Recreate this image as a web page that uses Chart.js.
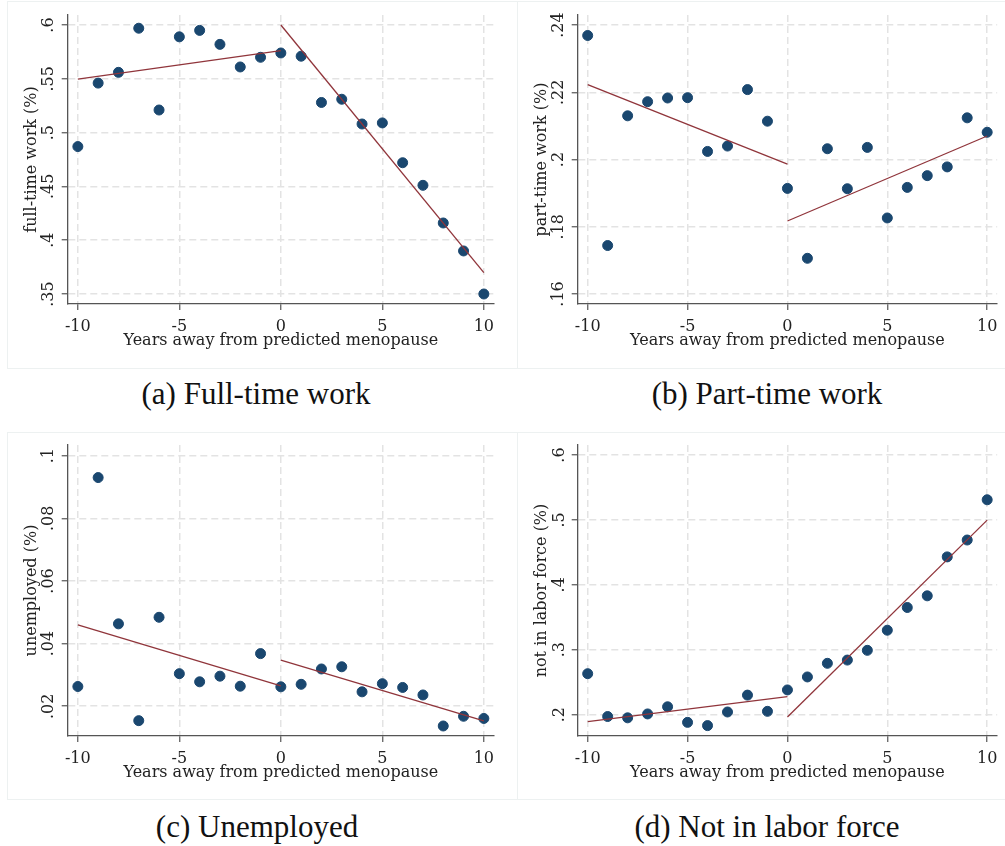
<!DOCTYPE html>
<html>
<head>
<meta charset="utf-8">
<script src="https://cdn.jsdelivr.net/npm/chart.js@4/dist/chart.umd.min.js"></script>
<style>
  html, body { margin: 0; padding: 0; background: #fff; }
  body { width: 1005px; height: 846px; position: relative; overflow: hidden; }
  .frame { position: absolute; border: 1px solid #edf1f1; box-sizing: border-box; }
  .panel { position: absolute; }
  .cap {
    position: absolute; font-family: "Liberation Serif", "Times New Roman", serif;
    font-size: 31px; line-height: 31px; color: #111; white-space: nowrap;
    transform: translateX(-50%);
  }
</style>
</head>
<body>
<div class="frame" style="left:7px;top:1px;width:511px;height:368px"></div>
<div class="frame" style="left:517px;top:1px;width:495px;height:368px"></div>
<div class="frame" style="left:7px;top:432px;width:511px;height:368px"></div>
<div class="frame" style="left:517px;top:432px;width:495px;height:368px"></div>

<canvas id="fulltime" class="panel" width="510" height="360" style="left:0;top:0"></canvas>
<canvas id="parttime" class="panel" width="495" height="360" style="left:510px;top:0"></canvas>
<canvas id="unemployed" class="panel" width="510" height="362" style="left:0;top:430px"></canvas>
<canvas id="nilf" class="panel" width="495" height="362" style="left:510px;top:430px"></canvas>

<div class="cap" style="left:256px;top:378px">(a) Full-time work</div>
<div class="cap" style="left:767px;top:378px">(b) Part-time work</div>
<div class="cap" style="left:257px;top:811px">(c) Unemployed</div>
<div class="cap" style="left:767px;top:811px">(d) Not in labor force</div>

<script>
// Years relative to predicted menopause
const years = [-10, -9, -8, -7, -6, -5, -4, -3, -2, -1, 0, 1, 2, 3, 4, 5, 6, 7, 8, 9, 10];

// Share of women in each labour-market state, by year
const fullTime   = [0.487, 0.546, 0.556, 0.597, 0.521, 0.589, 0.595, 0.582, 0.561, 0.570, 0.574,
                    0.571, 0.528, 0.531, 0.508, 0.509, 0.472, 0.451, 0.416, 0.390, 0.350];
const partTime   = [0.2369, 0.1744, 0.2130, 0.2172, 0.2183, 0.2184, 0.2024, 0.2040, 0.2208, 0.2114, 0.1914,
                    0.1706, 0.2032, 0.1913, 0.2036, 0.1826, 0.1917, 0.1952, 0.1978, 0.2124, 0.2081];
const unemployed = [0.0263, 0.0930, 0.0463, 0.0154, 0.0484, 0.0304, 0.0278, 0.0296, 0.0264, 0.0368, 0.0262,
                    0.0270, 0.0319, 0.0326, 0.0246, 0.0272, 0.0260, 0.0236, 0.0137, 0.0168, 0.0161];
const notInLF    = [0.263, 0.197, 0.195, 0.201, 0.212, 0.188, 0.183, 0.204, 0.230, 0.205, 0.238,
                    0.258, 0.279, 0.284, 0.299, 0.330, 0.365, 0.383, 0.443, 0.469, 0.531];

// Linear fits before and after menopause (values at the segment ends)
const preX  = [-10, 0];
const postX = [0, 10];
const fullTimeFitPre    = [0.5498, 0.5761];
const fullTimeFitPost   = [0.6000, 0.3698];
const partTimeFitPre    = [0.2223, 0.1986];
const partTimeFitPost   = [0.1817, 0.2070];
const unemployedFitPre  = [0.0460, 0.0265];
const unemployedFitPost = [0.0347, 0.0153];
const notInLFFitPre     = [0.1892, 0.2278];
const notInLFFitPost    = [0.1964, 0.4996];

// Tick labels
const xTicks          = [-10, -5, 0, 5, 10];
const fullTimeTicks   = [0.35, 0.4, 0.45, 0.5, 0.55, 0.6];
const partTimeTicks   = [0.16, 0.18, 0.2, 0.22, 0.24];
const unemployedTicks = [0.02, 0.04, 0.06, 0.08, 0.1];
const notInLFTicks    = [0.2, 0.3, 0.4, 0.5, 0.6];

const FONT = '"DejaVu Serif", serif';
const FSIZE = 16;
const TEXT = '#222';
const AXIS = '#555';
const GRID = '#e3e3e3';
const DOT  = '#1a476f';
const FIT  = '#90353b';

// Stata-style labels: drop the leading zero
const fmt = v => String(+v.toFixed(4)).replace(/^0\./, '.').replace(/^-0\./, '-.');

function pairs(xs, ys) { return xs.map((x, i) => ({ x: x, y: ys[i] })); }

function panel(id, values, fitPre, fitPost, yTicks, yRange, yTitle, g) {
  new Chart(document.getElementById(id), {
    data: {
      datasets: [
        { type: 'line', data: pairs(preX, fitPre), borderColor: FIT, borderWidth: 1.3,
          pointRadius: 0, fill: false, order: 0 },
        { type: 'line', data: pairs(postX, fitPost), borderColor: FIT, borderWidth: 1.3,
          pointRadius: 0, fill: false, order: 0 },
        { type: 'scatter', data: pairs(years, values), pointRadius: 5, pointHoverRadius: 5,
          pointBackgroundColor: DOT, pointBorderColor: DOT, borderWidth: 1, order: 1 }
      ]
    },
    options: {
      responsive: false,
      animation: false,
      events: [],
      layout: { padding: { top: 15, right: g.padRight, left: 0, bottom: 0 } },
      plugins: { legend: { display: false }, tooltip: { enabled: false } },
      scales: {
        x: {
          type: 'linear', min: -10.5, max: 10.5,
          afterBuildTicks: s => { s.ticks = xTicks.map(v => ({ value: v })); },
          afterFit: s => { s.height = g.xHeight; },
          ticks: { color: TEXT, font: { family: FONT, size: FSIZE }, padding: 7.5,
                   maxRotation: 0, autoSkip: false, callback: v => String(v) },
          grid: { color: GRID, lineWidth: 1.5, tickColor: AXIS, tickWidth: 1.2, tickLength: 6 },
          border: { color: AXIS, width: 1.3, dash: [7, 4] },
          title: { display: true, text: 'Years away from predicted menopause', color: TEXT,
                   font: { family: FONT, size: FSIZE }, padding: { top: 0, bottom: 9.5 } }
        },
        y: {
          type: 'linear', min: yRange[0], max: yRange[1],
          afterBuildTicks: s => { s.ticks = yTicks.map(v => ({ value: v })); },
          afterFit: s => { s.width = 67.7; },
          ticks: { color: TEXT, font: { family: FONT, size: FSIZE }, padding: g.yPad,
                   minRotation: 90, maxRotation: 90, crossAlign: 'center', autoSkip: false,
                   callback: v => fmt(v) },
          grid: { color: GRID, lineWidth: 1.5, tickColor: AXIS, tickWidth: 1.2, tickLength: 6 },
          border: { color: AXIS, width: 1.3, dash: [7, 4] },
          title: { display: true, text: yTitle, color: TEXT,
                   font: { family: FONT, size: FSIZE }, padding: { top: 22, bottom: 0 } }
        }
      }
    }
  });
}

panel('fulltime', fullTime, fullTimeFitPre, fullTimeFitPost, fullTimeTicks,
      [0.3407, 0.6093], 'full-time work (%)', { padRight: 16, xHeight: 56, yPad: 0.3 });
panel('parttime', partTime, partTimeFitPre, partTimeFitPost, partTimeTicks,
      [0.157, 0.243], 'part-time work (%)', { padRight: 1, xHeight: 56, yPad: 0.3 });
panel('unemployed', unemployed, unemployedFitPre, unemployedFitPost, unemployedTicks,
      [0.0105, 0.1034], 'unemployed (%)', { padRight: 16, xHeight: 56, yPad: 0.3 });
panel('nilf', notInLF, notInLFFitPre, notInLFFitPost, notInLFTicks,
      [0.167, 0.6154], 'not in labor force (%)', { padRight: 1, xHeight: 56, yPad: 4.2 });
</script>
</body>
</html>
